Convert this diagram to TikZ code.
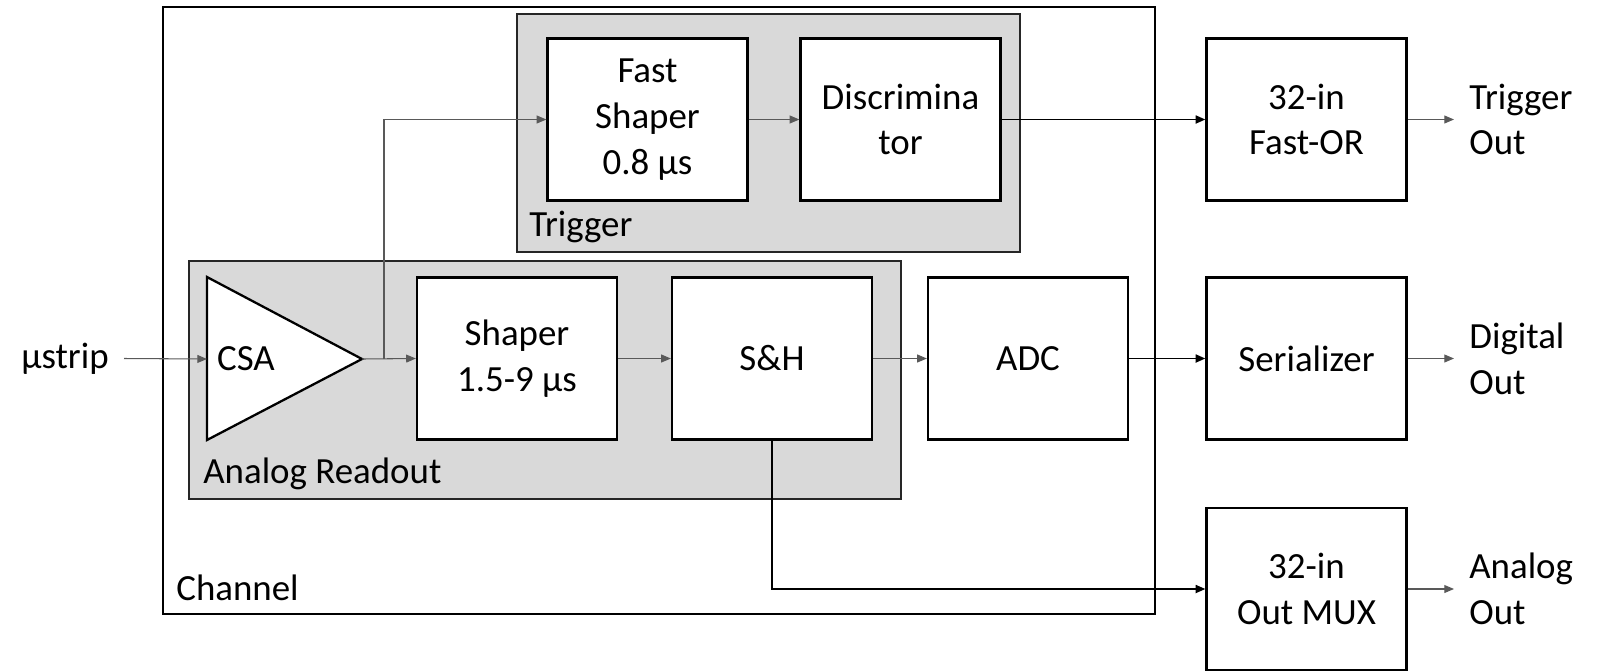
\documentclass[tikz,border=0pt]{standalone}
\usepackage{fontspec}
\setmainfont{Carlito}
\usetikzlibrary{arrows.meta}

\begin{document}
\begin{tikzpicture}[x=0.02cm,y=-0.02cm,
	every node/.style={font=\fontsize{21pt}{26pt}\selectfont},
	block/.style={draw,line width=1.3pt,fill=white,minimum width=4cm,minimum height=3.24cm,align=center,inner sep=0pt},
	group/.style={draw=black!85,line width=1.3pt,fill=black!15},
	sig/.style={-{Triangle[length=5.5pt,width=4.5pt]},black!65,line width=0.6pt},
	bus/.style={-{Triangle[length=5.5pt,width=4.5pt]},black,line width=1.1pt},
	outlabel/.style={anchor=west,align=left,inner xsep=0.3cm,inner ysep=0pt}]
	\useasboundingbox (0,0) rectangle (1598,670);
	% channel frame and the two shaded groups
	\draw[line width=1.3pt] (163,7) rectangle (1155,614);
	\draw[group] (517,14) rectangle (1020,252);
	\draw[group] (189,261) rectangle (901,499);
	\node[anchor=west,inner sep=0pt] (chlabel) at (176,588) {Channel};
	\node[anchor=west,inner sep=0pt] (triglabel) at (529,227) {Trigger};
	\node[anchor=west,inner sep=0pt] (analabel) at (203,474) {Analog Readout};
	% charge amplifier
	\coordinate (csain) at (207,359);
	\coordinate (csaout) at (362,359);
	\coordinate (tap) at (384,359);
	\draw[line width=1.3pt,fill=white] (207,277) -- (csaout) -- (207,440) -- cycle;
	\node (csa) at (246,359) {CSA};
	% blocks
	\node[block] (fastshaper) at (647.5,119.5) {Fast\\Shaper\\0.8 µs};
	\node[block] (disc) at (900.5,119.5) {Discrimina\\tor};
	\node[block] (shaper) at (517,358.5) {Shaper\\1.5-9 µs};
	\node[block] (sh) at (772,358.5) {S\&H};
	\node[block] (adc) at (1028,358.5) {ADC};
	\node[block] (fastor) at (1306.5,119.5) {32-in\\Fast-OR};
	\node[block] (serial) at (1306.5,358.5) {Serializer};
	\node[block] (mux) at (1306.5,589) {32-in\\Out MUX};
	% inputs and outputs
	\node[anchor=east,inner xsep=0.3cm,inner ysep=0pt] (ustrip) at (124,358.5) {µstrip};
	\node[outlabel] (trigout) at (1454,119.5) {Trigger\\Out};
	\node[outlabel] (digout) at (1454,358.5) {Digital\\Out};
	\node[outlabel] (anaout) at (1454,589) {Analog\\Out};
	% connections
	\draw[sig] (ustrip.east) -- (csain);
	\draw[sig] (csaout) -- (shaper.west);
	\draw[sig] (tap) |- (fastshaper.west);
	\draw[sig] (fastshaper) -- (disc);
	\draw[bus] (disc) -- (fastor);
	\draw[sig] (shaper) -- (sh);
	\draw[sig] (sh) -- (adc);
	\draw[bus] (adc) -- (serial);
	\draw[bus] (sh.south) |- (mux.west);
	\draw[sig] (fastor) -- (trigout.west);
	\draw[sig] (serial) -- (digout.west);
	\draw[sig] (mux.east) -- (anaout.west);
\end{tikzpicture}
\end{document}
